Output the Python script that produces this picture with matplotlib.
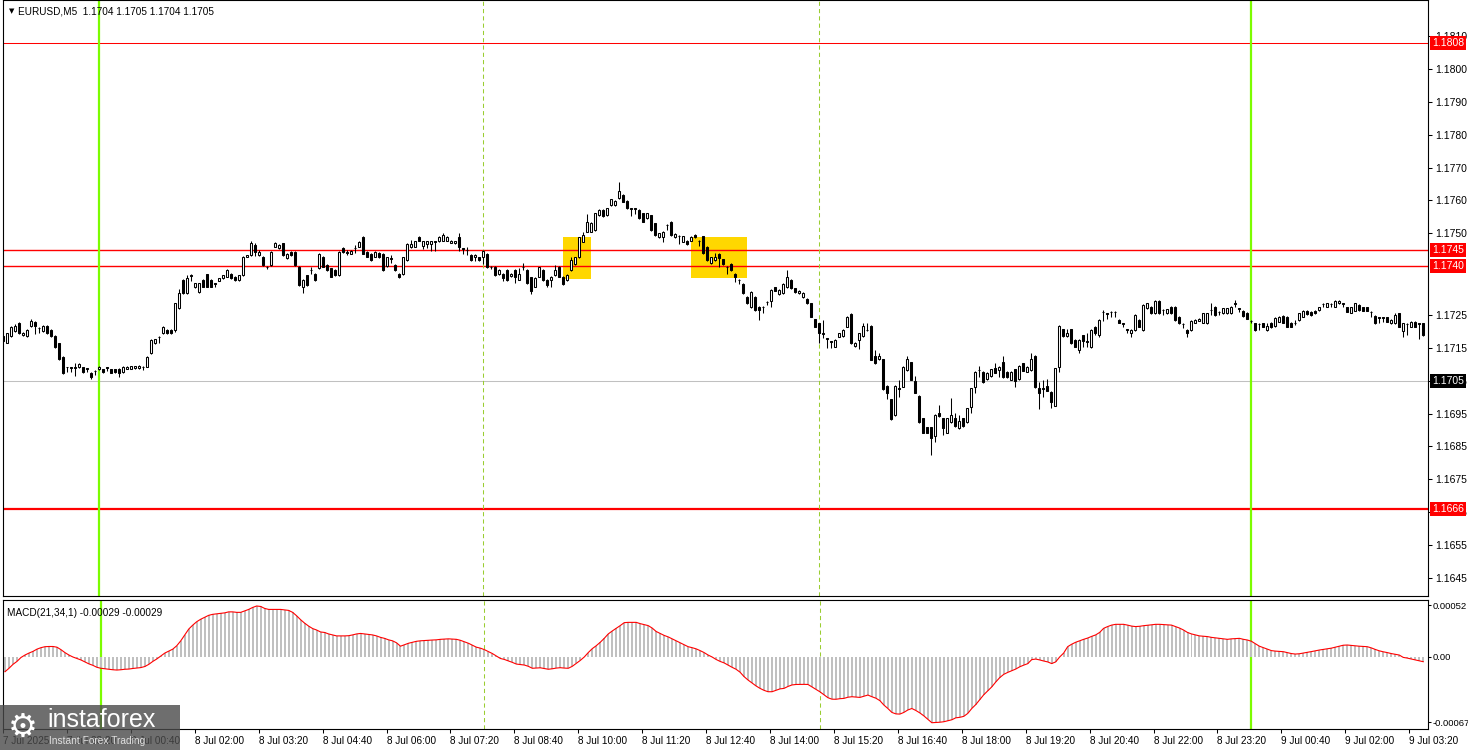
import matplotlib.pyplot as plt  # Import for charting
import numpy as np
from matplotlib.patches import Rectangle

# Fonts: Liberation Sans is close to the terminal font, DejaVu covers the symbols
plt.rcParams['font.family'] = ['Liberation Sans', 'DejaVu Sans']

# Price data, in pips above 1.1700 (EURUSD M5, one value per candle)
BASE = 1.1700
PIP = 0.0001

opens = [
    18.6, 16.6, 18.7, 20.3, 22.5, 18.9, 18.7, 21.7, 22.9, 21.0, 20.3, 21.7,
    20.5, 18.7, 16.4, 12.4, 9.2, 9.1, 9.2, 9.3, 9.1, 8.8, 7.5, 8.1,
    8.5, 8.5, 9.1, 8.5, 8.5, 8.7, 7.7, 8.7, 8.7, 8.8, 8.8, 9.3,
    9.3, 13.4, 16.4, 18.4, 19.5, 20.5, 20.5, 20.5, 27.1, 35.7, 31.7, 37.2,
    33.5, 32.2, 35.7, 37.5, 35.7, 34.7, 35.5, 36.2, 36.7, 37.7, 36.7, 35.7,
    37.2, 42.8, 43.3, 46.4, 43.3, 42.8, 39.8, 40.3, 45.9, 45.4, 46.9, 42.3,
    44.3, 44.3, 39.8, 33.7, 37.2, 38.8, 37.7, 39.3, 42.8, 40.3, 39.3, 38.8,
    37.2, 45.4, 44.2, 43.8, 45.4, 45.9, 48.9, 44.3, 43.8, 42.8, 44.0, 43.8,
    40.0, 42.3, 40.3, 37.7, 37.6, 41.8, 45.7, 45.9, 48.8, 46.1, 46.7, 46.7,
    47.5, 47.5, 47.7, 47.7, 47.1, 46.9, 48.8, 45.4, 45.0, 43.4, 42.7, 42.7,
    42.7, 43.7, 39.7, 39.8, 37.6, 37.6, 38.8, 37.0, 38.8, 35.8, 39.7, 38.8,
    36.6, 33.7, 36.8, 38.8, 35.8, 35.6, 37.3, 39.8, 36.8, 35.7, 38.8, 40.6,
    42.6, 47.4, 50.5, 50.5, 51.0, 55.6, 57.1, 55.6, 58.6, 58.6, 60.6, 61.7,
    59.9, 57.6, 57.6, 57.1, 56.1, 54.6, 55.5, 53.0, 48.8, 48.8, 52.5, 53.5,
    48.8, 49.2, 47.4, 47.7, 47.7, 49.5, 47.7, 49.0, 45.9, 40.8, 41.8, 43.7,
    42.0, 39.8, 40.6, 37.6, 35.8, 34.5, 30.7, 27.4, 30.7, 27.6, 27.6, 29.1,
    29.4, 33.5, 31.5, 31.7, 33.5, 35.8, 33.2, 31.7, 30.5, 29.9, 28.6, 23.8,
    22.5, 19.5, 18.0, 17.0, 15.4, 18.5, 18.7, 21.5, 25.5, 15.5, 17.4, 18.7,
    20.6, 21.7, 12.5, 11.6, 11.6, 3.4, -0.6, -5.4, 2.7, 3.2, 8.3, 10.6,
    4.8, 0.4, -6.4, -9.2, -9.2, -11.8, -4.7, -6.4, -10.8, -7.7, -6.4, -9.5,
    -6.4, -7.7, -2.9, 3.0, 8.3, 7.8, 5.5, 6.5, 8.8, 8.3, 10.6, 7.8,
    5.3, 8.5, 5.5, 10.3, 7.8, 8.3, 12.6, 2.7, 2.7, 3.4, 1.7, -2.6,
    9.3, 20.7, 18.7, 20.7, 17.4, 14.4, 18.9, 17.0, 15.4, 21.5, 19.0, 26.1,
    25.6, 26.1, 26.1, 23.5, 22.5, 20.7, 19.7, 20.5, 23.5, 20.5, 27.1, 27.6,
    25.6, 29.4, 26.6, 25.6, 27.6, 27.6, 24.6, 22.3, 20.5, 20.5, 22.7, 23.3,
    22.7, 22.5, 26.6, 27.6, 26.1, 25.6, 25.6, 25.6, 28.6, 27.1, 26.4, 25.8,
    23.3, 22.5, 22.3, 22.5, 20.5, 22.7, 21.7, 23.0, 24.8, 24.6, 22.7, 22.7,
    23.5, 24.6, 26.4, 26.1, 26.4, 26.6, 28.4, 27.6, 28.4, 27.6, 28.6, 28.6,
    27.4, 25.8, 26.4, 28.1, 27.4, 27.4, 26.1, 24.8, 24.4, 24.4, 24.4, 22.5,
    22.5, 25.6, 20.3, 22.3, 21.5, 23.0, 22.5, 22.5,
]

highs = [
    19.0, 19.7, 21.8, 22.2, 22.8, 19.9, 20.7, 23.8, 23.2, 21.3, 22.0, 22.0,
    20.8, 19.0, 16.6, 12.6, 9.3, 9.2, 10.3, 10.4, 9.3, 8.9, 7.8, 8.2,
    9.5, 8.7, 9.2, 8.7, 8.7, 8.9, 9.5, 9.5, 9.6, 9.6, 9.7, 9.4,
    12.6, 17.6, 17.8, 18.8, 21.7, 20.7, 20.7, 28.8, 33.0, 35.9, 37.2, 37.6,
    34.9, 34.9, 35.9, 37.7, 35.9, 34.8, 36.4, 37.4, 39.0, 37.9, 36.9, 37.4,
    43.0, 43.5, 47.7, 47.0, 44.8, 43.0, 40.0, 44.5, 47.4, 46.6, 47.1, 44.0,
    44.5, 44.5, 40.0, 35.9, 37.4, 39.8, 37.9, 44.0, 43.0, 40.5, 39.5, 39.0,
    44.5, 45.9, 45.0, 44.8, 46.4, 47.6, 49.1, 44.5, 44.0, 44.5, 44.2, 44.0,
    42.8, 43.3, 40.5, 37.9, 42.9, 46.9, 48.0, 47.7, 49.0, 47.7, 47.7, 47.7,
    47.7, 49.0, 50.0, 49.0, 47.9, 47.7, 50.0, 45.6, 45.9, 43.6, 43.6, 42.9,
    44.9, 43.9, 40.0, 40.0, 39.0, 37.8, 39.0, 37.8, 39.0, 39.5, 40.8, 39.0,
    36.8, 36.5, 39.8, 39.0, 36.0, 37.0, 40.3, 40.0, 37.0, 37.5, 42.7, 42.8,
    48.9, 50.5, 56.0, 53.4, 56.3, 57.3, 57.3, 57.8, 60.5, 60.1, 65.7, 61.9,
    60.1, 57.8, 57.8, 57.3, 56.3, 56.3, 55.7, 53.2, 50.2, 50.7, 52.7, 53.7,
    50.0, 49.4, 49.2, 47.9, 49.0, 49.7, 47.9, 49.2, 46.1, 42.9, 43.9, 43.9,
    42.2, 40.0, 40.8, 37.8, 36.0, 34.7, 30.9, 32.4, 30.9, 27.8, 27.8, 29.3,
    32.9, 33.7, 32.9, 34.7, 38.8, 36.0, 33.4, 32.7, 32.1, 30.1, 28.8, 24.0,
    22.7, 23.5, 18.2, 17.2, 17.6, 19.7, 20.7, 24.8, 25.7, 16.7, 19.7, 22.6,
    22.5, 21.9, 14.5, 13.4, 11.8, 3.6, -0.4, 3.6, 5.3, 9.5, 12.6, 10.8,
    6.5, 0.6, -6.2, -9.0, -9.0, -5.2, -2.4, -6.2, -6.2, -0.3, -4.7, -5.5,
    -6.2, -3.2, 2.9, 8.0, 9.5, 8.0, 7.7, 8.7, 10.3, 9.5, 12.6, 8.0,
    8.0, 8.7, 9.7, 10.5, 9.5, 13.4, 12.8, 4.7, 5.3, 5.5, 1.9, 9.0,
    21.9, 20.9, 20.7, 20.9, 17.6, 17.6, 19.1, 19.5, 20.7, 21.7, 23.7, 26.6,
    25.8, 26.3, 26.3, 23.7, 22.7, 20.9, 20.7, 25.3, 23.7, 28.3, 28.8, 27.8,
    29.6, 29.6, 26.8, 27.0, 27.8, 27.8, 24.8, 22.5, 20.7, 23.5, 23.7, 24.2,
    25.8, 25.8, 28.6, 27.8, 26.3, 27.3, 27.3, 27.8, 29.6, 27.3, 26.6, 26.0,
    23.5, 22.7, 22.5, 22.7, 22.7, 22.9, 24.5, 24.8, 25.0, 24.8, 22.9, 23.5,
    25.8, 26.6, 26.6, 26.3, 26.6, 27.6, 28.6, 28.8, 28.6, 29.6, 29.6, 28.8,
    27.6, 27.6, 28.8, 28.3, 27.6, 27.6, 26.3, 25.0, 24.6, 24.6, 24.6, 23.7,
    25.6, 25.8, 22.7, 22.5, 23.2, 23.2, 22.7, 22.7,
]

lows = [
    16.8, 16.4, 18.5, 20.0, 19.3, 18.7, 18.5, 21.5, 19.3, 19.5, 20.0, 19.2,
    18.5, 15.0, 11.2, 7.2, 7.8, 7.8, 6.5, 9.0, 7.4, 7.6, 5.5, 6.9,
    8.3, 7.5, 8.0, 7.3, 7.5, 6.3, 7.5, 8.5, 8.5, 8.6, 8.6, 8.2,
    9.1, 13.2, 16.2, 16.4, 19.3, 19.3, 19.3, 19.8, 26.9, 31.5, 31.5, 35.5,
    33.3, 31.7, 33.5, 33.5, 33.5, 33.5, 35.3, 36.0, 36.5, 36.0, 35.5, 35.5,
    37.0, 42.6, 43.1, 43.0, 43.1, 40.1, 39.0, 40.1, 45.7, 45.2, 43.1, 42.1,
    43.1, 40.1, 34.0, 31.9, 34.0, 37.7, 35.5, 39.1, 39.6, 38.6, 36.5, 37.0,
    37.0, 44.1, 43.3, 43.6, 44.0, 45.7, 43.6, 42.6, 41.6, 42.6, 42.4, 38.6,
    39.8, 41.0, 38.6, 36.3, 37.4, 41.6, 45.5, 45.7, 47.5, 45.1, 45.5, 44.5,
    44.5, 47.3, 47.5, 47.5, 46.9, 46.7, 44.5, 43.8, 43.3, 41.6, 41.5, 41.5,
    40.6, 39.4, 39.2, 37.1, 37.4, 35.3, 35.4, 36.8, 34.9, 35.6, 38.8, 34.5,
    31.6, 33.5, 36.6, 35.4, 33.5, 33.5, 37.1, 36.6, 34.3, 35.5, 38.6, 40.4,
    42.4, 47.2, 50.3, 50.3, 50.8, 55.4, 54.9, 55.4, 58.4, 58.4, 60.4, 59.4,
    57.4, 55.1, 56.0, 54.4, 53.3, 54.4, 50.8, 49.3, 48.6, 47.4, 51.0, 49.3,
    48.6, 46.7, 47.2, 46.5, 47.5, 48.6, 46.0, 43.7, 41.6, 40.6, 41.6, 39.8,
    40.4, 37.6, 38.6, 35.2, 34.5, 31.5, 28.4, 27.2, 26.4, 23.5, 25.8, 28.0,
    27.4, 32.3, 31.3, 31.5, 33.3, 33.0, 31.7, 31.5, 30.3, 28.4, 24.4, 21.3,
    16.4, 18.0, 15.0, 15.0, 15.2, 18.3, 18.5, 21.3, 16.2, 15.3, 14.6, 18.5,
    20.3, 11.2, 10.1, 11.4, 2.2, -0.5, -6.9, -5.6, 0.2, 3.0, 8.1, 5.2,
    1.2, -7.9, -11.0, -11.0, -17.6, -13.8, -5.9, -11.5, -11.0, -7.9, -9.0, -9.7,
    -9.0, -7.9, -4.7, 1.4, 6.3, 4.3, 5.3, 6.3, 7.3, 6.3, 5.9, 5.9,
    5.1, 3.2, 5.3, 7.9, 7.6, 8.1, 2.8, -3.7, 0.2, 1.8, -3.4, -2.8,
    7.8, 18.5, 18.5, 16.2, 15.2, 13.4, 15.4, 15.4, 14.9, 19.0, 18.5, 23.3,
    24.0, 24.6, 24.6, 22.5, 21.5, 19.5, 18.5, 20.3, 21.3, 20.3, 26.9, 25.4,
    25.4, 25.4, 25.1, 25.4, 25.4, 23.3, 22.3, 21.0, 18.5, 20.3, 22.5, 23.1,
    22.5, 22.3, 25.1, 24.9, 25.0, 25.4, 25.4, 25.4, 27.6, 26.1, 24.6, 23.8,
    22.5, 20.3, 20.5, 21.3, 20.3, 21.1, 21.5, 22.8, 22.5, 21.3, 21.3, 21.9,
    23.3, 24.4, 25.2, 24.9, 25.4, 26.4, 27.6, 27.4, 27.4, 27.4, 28.4, 27.6,
    25.9, 25.6, 26.2, 26.4, 26.2, 26.2, 24.6, 22.3, 22.5, 22.8, 22.8, 22.3,
    22.3, 21.3, 18.5, 19.0, 21.3, 21.3, 17.7, 18.8,
]

closes = [
    17.2, 19.7, 21.5, 21.7, 19.5, 19.6, 20.5, 23.3, 21.7, 21.0, 21.7, 19.5,
    18.7, 15.4, 11.6, 7.5, 9.1, 9.0, 9.0, 10.1, 7.7, 8.7, 6.1, 8.0,
    9.3, 7.7, 9.0, 7.5, 7.7, 7.3, 9.3, 9.3, 9.4, 9.4, 9.5, 9.2,
    12.4, 17.4, 17.6, 18.3, 21.5, 19.5, 19.5, 28.6, 31.7, 31.7, 36.2, 37.1,
    34.7, 34.7, 33.7, 33.7, 33.7, 34.6, 36.2, 37.2, 38.8, 36.2, 35.7, 37.2,
    42.8, 43.3, 46.9, 44.3, 44.3, 40.3, 39.7, 44.3, 46.9, 46.4, 43.3, 43.8,
    43.3, 40.3, 34.2, 35.7, 34.2, 38.7, 35.7, 43.8, 39.8, 38.8, 36.7, 37.2,
    44.3, 44.3, 44.1, 44.6, 45.5, 47.4, 43.8, 42.8, 41.8, 44.3, 42.6, 38.8,
    42.6, 42.2, 38.8, 36.5, 42.7, 46.7, 46.7, 47.5, 47.7, 47.5, 47.5, 47.5,
    47.4, 48.8, 49.6, 48.8, 47.7, 47.5, 45.7, 45.3, 44.9, 41.8, 43.4, 41.7,
    44.7, 39.6, 39.6, 37.3, 38.8, 36.3, 35.6, 37.6, 36.8, 37.6, 39.6, 34.7,
    32.5, 36.3, 39.6, 35.6, 34.3, 36.8, 38.8, 36.8, 34.5, 37.3, 41.8, 42.6,
    48.7, 49.5, 53.5, 53.2, 56.1, 57.1, 55.1, 57.6, 60.3, 59.9, 63.0, 59.6,
    57.6, 57.5, 57.5, 54.6, 53.5, 56.1, 51.0, 49.5, 50.0, 50.5, 52.4, 49.5,
    49.8, 49.1, 49.0, 46.7, 48.8, 48.8, 47.6, 43.9, 41.8, 42.7, 42.7, 42.4,
    40.6, 39.7, 38.8, 36.6, 35.7, 31.7, 28.6, 32.2, 26.6, 26.6, 27.5, 29.0,
    32.7, 32.5, 32.7, 34.5, 36.6, 33.2, 32.2, 32.5, 31.9, 28.6, 24.6, 21.5,
    19.5, 19.4, 17.9, 16.9, 17.4, 19.5, 20.5, 24.6, 16.4, 16.5, 19.5, 21.7,
    20.5, 11.4, 10.3, 12.5, 2.4, 1.4, -6.7, 3.4, 2.6, 9.3, 11.6, 5.4,
    1.4, -7.7, -10.8, -10.8, -12.5, -5.4, -5.7, -9.5, -6.4, -5.4, -8.8, -7.4,
    -8.8, -3.4, 2.7, 7.8, 8.2, 4.5, 7.5, 8.5, 7.5, 9.3, 6.1, 6.1,
    7.8, 4.8, 9.5, 8.1, 9.3, 11.6, 3.0, 1.4, 2.6, 2.0, -1.6, 8.8,
    21.7, 18.7, 19.7, 16.4, 15.4, 17.4, 17.0, 16.9, 20.5, 19.5, 23.5, 26.0,
    25.5, 26.0, 26.0, 22.7, 22.4, 20.6, 20.5, 25.1, 21.5, 28.1, 28.6, 25.6,
    29.4, 25.6, 26.5, 26.8, 25.6, 23.5, 22.5, 22.2, 19.5, 23.3, 23.5, 24.0,
    25.6, 25.6, 26.5, 25.1, 26.0, 27.1, 27.1, 27.6, 28.5, 27.0, 24.8, 24.0,
    23.2, 20.5, 22.2, 21.5, 21.7, 21.3, 24.3, 24.6, 22.7, 21.5, 21.5, 22.6,
    25.6, 26.4, 25.4, 25.1, 25.6, 27.4, 28.3, 28.6, 28.3, 29.4, 29.4, 28.5,
    26.1, 27.4, 28.6, 26.6, 26.4, 26.4, 26.0, 22.5, 24.3, 24.3, 23.0, 23.5,
    25.1, 21.5, 22.5, 22.2, 23.0, 21.5, 22.4, 19.0,
]

# MACD(21,34,1) main line, in units of 0.00001 (signal equals main with period 1)
macd = [
    -15.5, -12, -8, -5, -1, 1.5, 3.5, 5.2, 7.5, 9, 10, 10.2,
    10.2, 9.5, 7, 4, 1.5, -0.5, -2, -3.5, -5.5, -7.5, -9, -11,
    -12, -12.5, -13, -13.5, -13.8, -13.5, -13, -12.8, -12.2, -11.8, -11.3, -10.2,
    -8, -5, -2.5, 0.5, 3.5, 5.5, 7.5, 11, 16, 22, 28, 32,
    35.5, 38, 40, 42, 43, 43.5, 44, 44.5, 45.5, 45.5, 45, 45,
    46.5, 48, 50, 51.5, 51, 49, 48, 48, 48, 48, 47.5, 47,
    45, 41.5, 37.5, 34, 31, 28.5, 27, 25, 24.5, 23, 22, 21,
    21, 21, 21.2, 22, 23, 23.5, 23, 22.5, 22, 21, 19.5, 18.5,
    17, 16, 14, 10.5, 12, 13.5, 14.5, 15.5, 16, 16.3, 16.5, 16.8,
    17, 17.5, 17.8, 18, 17.8, 17.5, 16.5, 15, 13.5, 11.5, 9.5, 8.5,
    7, 5, 3, 0.5, -2, -3, -4.5, -6, -7.7, -8.2, -8.7, -10,
    -12, -11.8, -11.5, -12.3, -13, -12.5, -11.8, -11.4, -11.8, -12, -10, -7,
    -4, -0.5, 4, 8, 11, 14.5, 18.5, 23, 26, 28.7, 31.5, 34.5,
    34.8, 34.8, 34.8, 33.5, 32.5, 31.5, 29, 25.5, 23.5, 21.5, 20, 18,
    16, 14, 12, 10, 9, 7.8, 6, 4, 1.5, -0.5, -3, -5,
    -6.5, -8.8, -11, -13, -16, -20.5, -24, -27, -30, -32.5, -34.5, -35.9,
    -35.9, -34.5, -33, -32.5, -30.5, -29, -28.5, -28.4, -28.4, -28.5, -31, -33.5,
    -36, -39, -42, -43.5, -43.6, -43, -42.7, -41.5, -41, -41.3, -41.7, -40.5,
    -39.3, -41, -42.5, -45, -49.5, -53, -57, -58.5, -58.7, -57, -54.5, -53,
    -55, -57.5, -60.5, -64, -67.5, -67.3, -67, -66.5, -65.5, -64.5, -62.5, -62,
    -61, -58, -53, -49, -44, -39, -35, -31, -26, -21.5, -18.2, -16.2,
    -14.5, -12.8, -10.5, -8.8, -7.3, -3.2, -2.6, -3.5, -4.6, -5.5, -7.2, -5.5,
    -0.5, 3.5, 10, 12.5, 14.5, 16, 17.5, 18.8, 20.5, 22, 24.5, 28.7,
    30.5, 32, 32.8, 32.8, 32.8, 32, 31, 30.5, 30.8, 31.4, 31.8, 32.3,
    32.8, 32.8, 32.5, 32.3, 32, 30.5, 29, 27, 24.5, 23, 22, 21,
    20.7, 20.3, 19.5, 19, 18.5, 18, 17.5, 18, 18.3, 18.5, 17.5, 16.8,
    15.5, 13, 10.5, 9, 7.5, 6, 5.5, 5.2, 4.9, 4, 3, 2.5,
    2.8, 3.5, 4.2, 5, 5.8, 6.6, 7.2, 7.8, 8.5, 9.5, 10.5, 11.5,
    11.7, 11.3, 11, 10.5, 10.3, 10, 8.8, 7.2, 5.8, 4.8, 4, 3,
    2.2, 1.5, -0.9, -1.6, -2.5, -3.3, -4.3, -5.3,
]

# Time axis labels (every 16 candles = 80 minutes)
time_labels = ["7 Jul 2025", "7 Jul 23:20", "8 Jul 00:40", "8 Jul 02:00",
               "8 Jul 03:20", "8 Jul 04:40", "8 Jul 06:00", "8 Jul 07:20",
               "8 Jul 08:40", "8 Jul 10:00", "8 Jul 11:20", "8 Jul 12:40",
               "8 Jul 14:00", "8 Jul 15:20", "8 Jul 16:40", "8 Jul 18:00",
               "8 Jul 19:20", "8 Jul 20:40", "8 Jul 22:00", "8 Jul 23:20",
               "9 Jul 00:40", "9 Jul 02:00", "9 Jul 03:20"]
time_label_idx = [0, 16, 32, 48, 64, 80, 96, 112, 128, 144, 160, 176,
                  192, 208, 224, 240, 256, 272, 288, 304, 320, 336, 352]

# Price scale labels shown on the right
price_ticks = [1.1810, 1.1800, 1.1790, 1.1780, 1.1770, 1.1760, 1.1750,
               1.1725, 1.1715, 1.1705, 1.1695, 1.1685, 1.1675, 1.1665,
               1.1655, 1.1645]

# Horizontal levels drawn on the chart
red_levels = [1.1808, 1.1745, 1.1740, 1.1666]
red_widths = [0.75, 1.0, 1.0, 1.6]
current_price = 1.1705

# Day separators (8 Jul 00:00, 9 Jul 00:00) and session marks (08:00, 15:00)
day_marks = [24, 312]
session_marks = [120, 204]

# Signal zones: candle start, candle end, upper pip, lower pip
zone_start = [139.9, 171.9]
zone_end = [146.9, 185.9]
zone_top = [48.85, 48.85]
zone_bottom = [36.05, 36.35]

# MACD scale labels
macd_ticks = [52, 0, -67]
macd_tick_labels = ["0.00052", "0.00", "-0.00067"]

# Figure layout in pixels
W, H = 1468, 750


def box(left, top, right, bottom):
    return [left / W, 1 - bottom / H, (right - left) / W, (bottom - top) / H]


fig = plt.figure(figsize=(W / 100, H / 100), dpi=100)
ax = fig.add_axes(box(3, 0, 1428, 596))
ax2 = fig.add_axes(box(3, 600, 1428, 729))

k = np.arange(len(closes))
o = BASE + np.array(opens) * PIP
h = BASE + np.array(highs) * PIP
l = BASE + np.array(lows) * PIP
c = BASE + np.array(closes) * PIP

# Signal zones behind everything
for i in range(len(zone_start)):
    ax.add_patch(Rectangle((zone_start[i], BASE + zone_bottom[i] * PIP),
                           zone_end[i] - zone_start[i],
                           (zone_top[i] - zone_bottom[i]) * PIP,
                           facecolor="#FFD700", edgecolor="none", zorder=0.5))

# Levels
for lvl, lw in zip(red_levels, red_widths):
    ax.axhline(lvl, color="#FF0000", lw=lw, zorder=1)
ax.axhline(current_price, color="#C0C0C0", lw=0.75, zorder=1)

# Vertical markers
for a in (ax, ax2):
    for m in day_marks:
        a.axvline(m, color="#7CFC00", lw=1.6, zorder=1.5)
    for m in session_marks:
        a.axvline(m, color="#9ACD32", lw=0.75, linestyle=(0, (4, 3)), zorder=1.5)

# Candles: wicks first, then bodies
ax.vlines(k, l, h, color="black", lw=0.75, zorder=2)
up = c >= o
body_low = np.minimum(o, c)
body_h = np.abs(c - o)
ax.bar(k[up], body_h[up], bottom=body_low[up], width=0.55, color="white",
       edgecolor="black", linewidth=0.75, zorder=3)
ax.bar(k[~up], body_h[~up], bottom=body_low[~up], width=0.55, color="black",
       edgecolor="black", linewidth=0.75, zorder=3)

# Axis ranges (match the pixel scale of the terminal)
ax.set_xlim(-0.075, 356.2)
ax.set_ylim(BASE - 60.6 * PIP, BASE + 121.1 * PIP)
ax.yaxis.tick_right()
ax.set_yticks(price_ticks)
ax.set_yticklabels([f"{p:.4f}" for p in price_ticks])
ax.tick_params(axis="y", length=3, width=0.75, labelsize=7.5, pad=2)
ax.set_xticks([])

# Boxed labels for levels on the price scale
for lvl in red_levels:
    ax.annotate(f"{lvl:.4f}", xy=(1, lvl), xycoords=("axes fraction", "data"),
                xytext=(3, 0), textcoords="offset points", va="center", ha="left",
                fontsize=7.5, color="white", annotation_clip=False,
                bbox=dict(boxstyle="square,pad=0.2", fc="#FF0000", ec="none"))
ax.annotate(f"{current_price:.4f}", xy=(1, current_price),
            xycoords=("axes fraction", "data"), xytext=(3, 0),
            textcoords="offset points", va="center", ha="left", fontsize=7.5,
            color="white", annotation_clip=False,
            bbox=dict(boxstyle="square,pad=0.2", fc="black", ec="none"))

# Symbol caption
ax.text(6 / 1425, 1 - 11 / 596, "\u25bc", transform=ax.transAxes, fontsize=5,
        va="center", ha="left", family="DejaVu Sans")
ax.text(15 / 1425, 1 - 11 / 596, "EURUSD,M5  1.1704 1.1705 1.1704 1.1705",
        transform=ax.transAxes, fontsize=7.2, va="center", ha="left")

# MACD histogram and signal line
mv = np.array(macd)
ax2.bar(k, mv, width=0.5, color="#C0C0C0", zorder=2)
ax2.plot(k, mv, color="#FF0000", lw=0.8, zorder=3)
ax2.set_xlim(-0.075, 356.2)
ax2.set_ylim(-73.9, 57.6)
ax2.yaxis.tick_right()
ax2.set_yticks(macd_ticks)
ax2.set_yticklabels(macd_tick_labels)
ax2.tick_params(axis="y", length=2, width=0.75, labelsize=6.8, pad=1)
ax2.text(4 / 1425, 0.94, "MACD(21,34,1) -0.00029 -0.00029",
         transform=ax2.transAxes, fontsize=7.2, va="top", ha="left")

# Time labels under the MACD window
ax2.set_xticks([t - 0.5 for t in time_label_idx])
ax2.set_xticklabels(time_labels, ha="left")
ax2.tick_params(axis="x", length=3, width=0.75, labelsize=7.2, pad=2)

for a in (ax, ax2):
    for s in a.spines.values():
        s.set_linewidth(0.8)

# Watermark in the lower left corner
fig.add_artist(Rectangle((0, 0), 180 / W, 45 / H, transform=fig.transFigure,
                         facecolor="#4a4a4a", edgecolor="none", alpha=0.8,
                         zorder=10))
fig.text(8 / W, 1 - 727 / H, "\u2699", fontsize=24, color="white",
         family="DejaVu Sans", va="center", ha="left", zorder=11)
fig.text(47 / W, 1 - 720 / H, "instaforex", fontsize=18, color="white",
         va="center", ha="left", zorder=11)
fig.text(49 / W, 1 - 741 / H, "Instant Forex Trading", fontsize=7.3,
         color="#e0e0e0", va="center", ha="left", zorder=11)

fig.savefig("out.png", dpi=100)
